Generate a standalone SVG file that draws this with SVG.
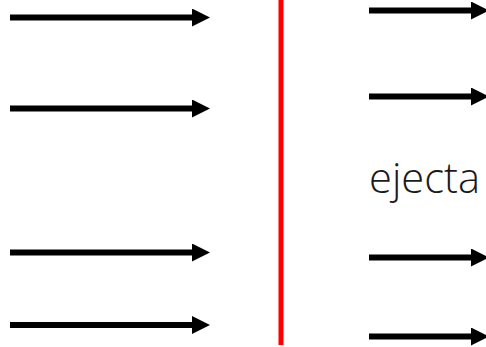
<svg xmlns="http://www.w3.org/2000/svg" width="486" height="347" viewBox="0 0 486 347">
  <style>
    .flow { stroke: #000; stroke-width: 6; fill: none; marker-end: url(#head); }
    .front { stroke: #ff0000; stroke-width: 5; }
    .label { font-family: "Open Sans", "Liberation Sans", sans-serif; font-weight: 300; font-size: 43px; fill: #1a1a1a; }
  </style>
  <defs>
    <marker id="head" markerUnits="userSpaceOnUse" markerWidth="18" markerHeight="18" refX="0" refY="9" orient="auto" viewBox="0 0 18 18">
      <path d="M0,0 L18,9 L0,18 Z" fill="#000"/>
    </marker>
  </defs>
  <rect width="486" height="347" fill="#fff"/>

  <!-- incoming flow (left of the front) -->
  <g id="connectors">
    <line class="flow" x1="10" y1="17.5" x2="192" y2="17.5"/>
    <line class="flow" x1="10" y1="108.5" x2="192" y2="108.5"/>
    <line class="flow" x1="10" y1="252.5" x2="192" y2="252.5"/>
    <line class="flow" x1="10" y1="325" x2="192" y2="325"/>
    <!-- outgoing flow (right of the front) -->
    <line class="flow" x1="369" y1="10.5" x2="471" y2="10.5"/>
    <line class="flow" x1="369" y1="96.5" x2="471" y2="96.5"/>
    <line class="flow" x1="369" y1="257.5" x2="471" y2="257.5"/>
    <line class="flow" x1="369" y1="336.5" x2="471" y2="336.5"/>
  </g>

  <!-- shock front -->
  <g id="front">
    <line class="front" x1="281" y1="0" x2="281" y2="345"/>
  </g>

  <g id="ejecta">
    <text class="label" x="369" y="193" textLength="111" lengthAdjust="spacingAndGlyphs">ejecta</text>
  </g>
</svg>
